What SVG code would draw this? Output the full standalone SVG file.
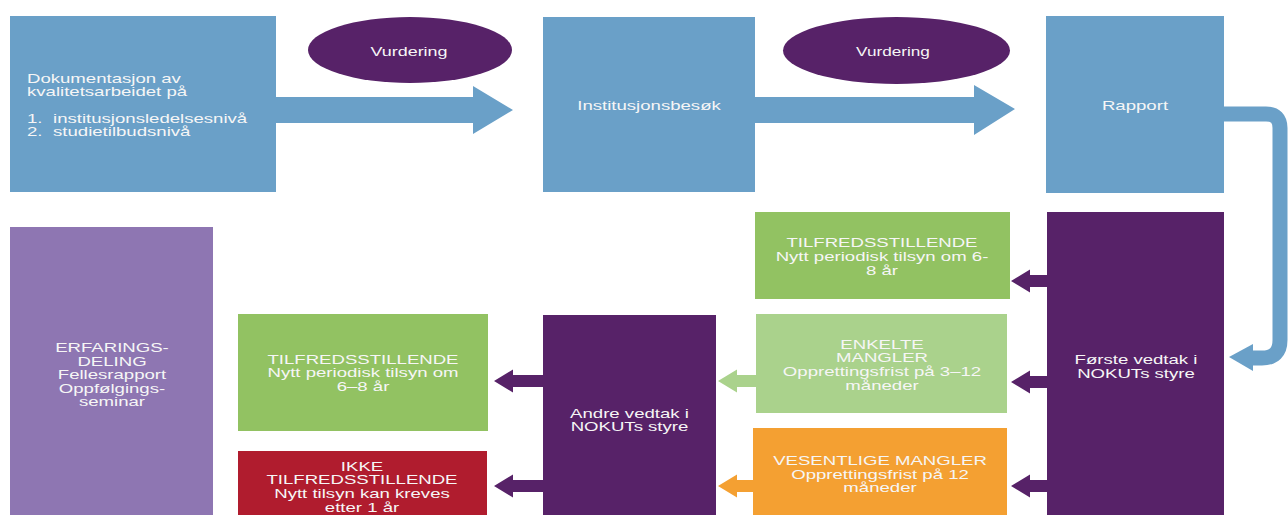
<svg xmlns="http://www.w3.org/2000/svg" width="1288" height="515" viewBox="0 0 1288 515">
  <style>
    .blue { fill: #6aa0c8; }
    .dpurple { fill: #572268; }
    .lav { fill: #8e76b2; }
    .green { fill: #92c262; }
    .lgreen { fill: #aad28c; }
    .orange { fill: #f4a032; }
    .red { fill: #b01c2e; }
    text { font-family: "Liberation Sans", Arial, sans-serif; font-size: 13px; fill: #f6f6f6; }
    .c { text-anchor: middle; }
    .curve { fill: none; stroke: #6aa0c8; stroke-width: 15; }
  </style>

  <g id="connectors">
    <polygon class="blue" points="276,97 473,97 473,86 513,110 473,134 473,123 276,123"/>
    <polygon class="blue" points="755,97 974,97 974,85 1015,109 974,135 974,123 755,123"/>
    <path class="curve" d="M1222,114 L1266,114 Q1280,114 1280,128 L1280,340 Q1280,358 1262,358 L1250,358"/>
    <polygon class="blue" points="1229,357 1253,344 1253,371"/>
    <!-- first decision arrows -->
    <polygon class="dpurple" points="1011,281 1030,269.5 1030,275 1048,275 1048,287 1030,287 1030,292.5"/>
    <polygon class="dpurple" points="1011,382 1030,370.5 1030,376 1048,376 1048,388 1030,388 1030,393.5"/>
    <polygon class="dpurple" points="1011,486 1030,474.5 1030,480 1048,480 1048,492 1030,492 1030,497.5"/>
    <!-- to second decision -->
    <polygon class="lgreen" points="718,381 737,369.5 737,375 757,375 757,387 737,387 737,392.5"/>
    <polygon class="orange" points="718,486 737,474.5 737,480 754,480 754,492 737,492 737,497.5"/>
    <!-- second decision arrows -->
    <polygon class="dpurple" points="494,381 513,369.5 513,375 544,375 544,387 513,387 513,392.5"/>
    <polygon class="dpurple" points="494,486 513,474.5 513,480 544,480 544,492 513,492 513,497.5"/>
  </g>

  <g id="dokumentasjon">
    <rect class="blue" x="10" y="16" width="266" height="176"/>
    <g transform="translate(27,0) scale(1.43,1)">
      <text x="0" y="83">Dokumentasjon av</text>
      <text x="0" y="96">kvalitetsarbeidet på</text>
      <text x="0" y="123">1.</text>
      <text x="18.2" y="123">institusjonsledelsesnivå</text>
      <text x="0" y="136">2.</text>
      <text x="18.2" y="136">studietilbudsnivå</text>
    </g>
  </g>

  <g id="vurdering1">
    <ellipse class="dpurple" cx="410" cy="50" rx="102" ry="33"/>
    <g transform="translate(409,0) scale(1.38,1)"><text class="c" x="0" y="56">Vurdering</text></g>
  </g>

  <g id="institusjonsbesok">
    <rect class="blue" x="543" y="17" width="212" height="175"/>
    <g transform="translate(649,0) scale(1.43,1)"><text class="c" x="0" y="110">Institusjonsbesøk</text></g>
  </g>

  <g id="vurdering2">
    <ellipse class="dpurple" cx="896.5" cy="50.5" rx="113.5" ry="33.5"/>
    <g transform="translate(893,0) scale(1.32,1)"><text class="c" x="0" y="56">Vurdering</text></g>
  </g>

  <g id="rapport">
    <rect class="blue" x="1046" y="16" width="178" height="177"/>
    <g transform="translate(1135,0) scale(1.43,1)"><text class="c" x="0" y="110">Rapport</text></g>
  </g>

  <g id="forste-vedtak">
    <rect class="dpurple" x="1047" y="212" width="177" height="303"/>
    <g transform="translate(1136,0) scale(1.43,1)">
      <text class="c" x="0" y="364">Første vedtak i</text>
      <text class="c" x="0" y="378">NOKUTs styre</text>
    </g>
  </g>

  <g id="tilfredsstillende1">
    <rect class="green" x="755" y="212" width="255" height="87"/>
    <g transform="translate(882,0) scale(1.43,1)">
      <text class="c" x="0" y="247">TILFREDSSTILLENDE</text>
      <text class="c" x="0" y="261">Nytt periodisk tilsyn om 6-</text>
      <text class="c" x="0" y="275">8 år</text>
    </g>
  </g>

  <g id="enkelte-mangler">
    <rect class="lgreen" x="756" y="314" width="251" height="99"/>
    <g transform="translate(882,0) scale(1.43,1)">
      <text class="c" x="0" y="349">ENKELTE</text>
      <text class="c" x="0" y="362">MANGLER</text>
      <text class="c" x="0" y="376">Opprettingsfrist på 3–12</text>
      <text class="c" x="0" y="390">måneder</text>
    </g>
  </g>

  <g id="vesentlige-mangler">
    <rect class="orange" x="753" y="428" width="254" height="87"/>
    <g transform="translate(880,0) scale(1.43,1)">
      <text class="c" x="0" y="465">VESENTLIGE MANGLER</text>
      <text class="c" x="0" y="479">Opprettingsfrist på 12</text>
      <text class="c" x="0" y="492">måneder</text>
    </g>
  </g>

  <g id="andre-vedtak">
    <rect class="dpurple" x="543" y="315" width="173" height="200"/>
    <g transform="translate(629.5,0) scale(1.43,1)">
      <text class="c" x="0" y="418">Andre vedtak i</text>
      <text class="c" x="0" y="431">NOKUTs styre</text>
    </g>
  </g>

  <g id="tilfredsstillende2">
    <rect class="green" x="238" y="314" width="250" height="117"/>
    <g transform="translate(363,0) scale(1.43,1)">
      <text class="c" x="0" y="364">TILFREDSSTILLENDE</text>
      <text class="c" x="0" y="377">Nytt periodisk tilsyn om</text>
      <text class="c" x="0" y="391">6–8 år</text>
    </g>
  </g>

  <g id="ikke-tilfredsstillende">
    <rect class="red" x="238" y="451" width="249" height="64"/>
    <g transform="translate(362,0) scale(1.43,1)">
      <text class="c" x="0" y="471">IKKE</text>
      <text class="c" x="0" y="484">TILFREDSSTILLENDE</text>
      <text class="c" x="0" y="498">Nytt tilsyn kan kreves</text>
      <text class="c" x="0" y="512">etter 1 år</text>
    </g>
  </g>

  <g id="erfaringsdeling">
    <rect class="lav" x="10" y="227" width="203" height="288"/>
    <g transform="translate(112,0) scale(1.43,1)">
      <text class="c" x="0" y="352">ERFARINGS-</text>
      <text class="c" x="0" y="366">DELING</text>
      <text class="c" x="0" y="379">Fellesrapport</text>
      <text class="c" x="0" y="393">Oppfølgings-</text>
      <text class="c" x="0" y="406">seminar</text>
    </g>
  </g>
</svg>
